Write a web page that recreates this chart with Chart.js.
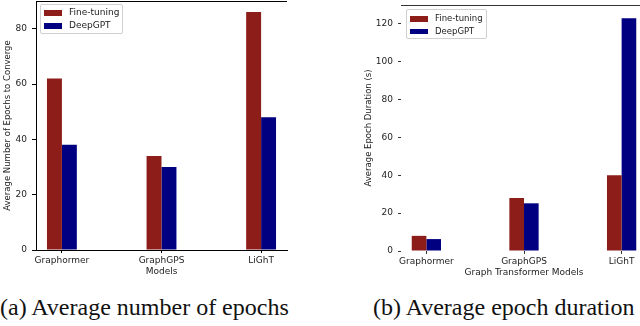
<!DOCTYPE html>
<html>
<head>
<meta charset="utf-8">
<script src="https://cdn.jsdelivr.net/npm/chart.js@4"></script>
<style>
html, body { margin: 0; padding: 0; background: #fff; }
body { width: 640px; height: 326px; overflow: hidden; position: relative; }
canvas { position: absolute; top: 0; }
#c1 { left: 0; }
#c2 { left: 320px; }
.legend { position: absolute; box-sizing: border-box; border: 1px solid #d0d0d0; border-radius: 2px;
          background: rgba(255,255,255,0.85); font: 9px "DejaVu Sans"; color: #222; }
.legend .row { position: absolute; left: 3px; white-space: nowrap; line-height: 10px; }
.legend .sw { display: inline-block; width: 18px; height: 6px; margin-right: 7px; vertical-align: middle; }
.caption { position: absolute; top: 295px; font: 24px "Liberation Serif", "Times New Roman", serif; line-height: 1; white-space: nowrap; color: #111; }
</style>
</head>
<body>
<canvas id="c1" width="300" height="290"></canvas>
<canvas id="c2" width="330" height="290"></canvas>

<div class="legend" style="left:40px;top:4px;width:83px;height:30px">
  <div class="row" style="top:2px"><span class="sw" style="background:#8c1d18"></span>Fine-tuning</div>
  <div class="row" style="top:15px"><span class="sw" style="background:#000080"></span>DeepGPT</div>
</div>
<div class="legend" style="left:406px;top:9px;width:81px;height:30px;font-size:8.5px">
  <div class="row" style="top:3px"><span class="sw" style="background:#8c1d18"></span>Fine-tuning</div>
  <div class="row" style="top:16px"><span class="sw" style="background:#000080;height:5px"></span>DeepGPT</div>
</div>

<div class="caption" style="left:0">(a) Average number of epochs</div>
<div class="caption" style="left:373px">(b) Average epoch duration</div>

<script>
// chart values
const models = ["Graphormer", "GraphGPS", "LiGhT"];
const epochsFineTuning = [62, 34, 86];
const epochsDeepGPT = [38, 30, 48];
const durationFineTuning = [8, 28, 40];
const durationDeepGPT = [6.3, 25.2, 123];
const epochTicks = [0, 20, 40, 60, 80];
const durationTicks = [0, 20, 40, 60, 80, 100, 120];

const redColor = "#8c1d18";
const blueColor = "#000080";

Chart.defaults.font.family = "DejaVu Sans";
Chart.defaults.font.size = 9;
Chart.defaults.color = "#222";

function toPoints(values) {
    return values.map((v, i) => ({ x: i, y: v }));
}

// draws the line along the top of the plot
const topLine = {
    id: "topLine",
    afterDraw(chart, args, opts) {
        const a = chart.chartArea;
        const ctx = chart.ctx;
        ctx.save();
        ctx.strokeStyle = opts.color;
        ctx.lineWidth = 1;
        ctx.beginPath();
        ctx.moveTo(a.left, a.top + 0.5);
        ctx.lineTo(a.right, a.top + 0.5);
        ctx.stroke();
        ctx.restore();
    }
};

// no extra room for labels at the ends of the axes
function noPad(axis) {
    axis.paddingTop = 0;
    axis.paddingBottom = 0;
    axis.paddingLeft = 0;
    axis.paddingRight = 0;
}

function makeChart(id, s) {
    return new Chart(id, {
        type: "bar",
        data: {
            datasets: [
                { label: "Fine-tuning", data: toPoints(s.fine), backgroundColor: redColor },
                { label: "DeepGPT", data: toPoints(s.deep), backgroundColor: blueColor }
            ]
        },
        options: {
            responsive: false,
            animation: false,
            layout: { padding: s.padding },
            categoryPercentage: 0.3,
            barPercentage: 1.0,
            plugins: {
                legend: { display: false },
                tooltip: { enabled: false },
                topLine: { color: s.lineColor }
            },
            scales: {
                x: {
                    type: "linear",
                    offset: false,
                    min: -0.26,
                    max: 2.26,
                    afterBuildTicks: axis => { axis.ticks = models.map((m, i) => ({ value: i })); },
                    afterFit: axis => { axis.height = s.xHeight; noPad(axis); },
                    ticks: {
                        autoSkip: false, maxRotation: 0, padding: 2,
                        callback: v => models[v]
                    },
                    grid: { offset: false, drawOnChartArea: false, drawTicks: true, tickLength: 3, color: s.lineColor },
                    border: { display: s.borders, color: "#000", width: 1 },
                    title: { display: true, text: s.xTitle, padding: { top: 0, bottom: s.xTitlePad } }
                },
                y: {
                    min: 0,
                    max: s.yMax,
                    afterBuildTicks: axis => { axis.ticks = s.yTicks.map(v => ({ value: v })); },
                    afterFit: axis => { axis.width = s.yWidth; noPad(axis); },
                    ticks: { padding: s.yTickPad },
                    grid: { drawOnChartArea: false, drawTicks: true, tickLength: s.yTickLen, color: s.lineColor },
                    border: { display: s.borders, color: "#000", width: 1 },
                    title: { display: true, text: s.yTitle, font: { size: 8.5 }, padding: { top: s.yTitlePad, bottom: 0 } }
                }
            }
        },
        plugins: [topLine]
    });
}

makeChart("c1", {
    fine: epochsFineTuning, deep: epochsDeepGPT,
    yMax: 90, yTicks: epochTicks,
    padding: { top: 1, right: 13, left: 0, bottom: 0 },
    xHeight: 40, yWidth: 36, xTitlePad: 13, yTitlePad: 3,
    yTickPad: 5, yTickLen: 4,
    borders: true, lineColor: "#000",
    xTitle: "Models", yTitle: "Average Number of Epochs to Converge"
});

makeChart("c2", {
    fine: durationFineTuning, deep: durationDeepGPT,
    yMax: 130, yTicks: durationTicks,
    padding: { top: 5, right: 3, left: 0, bottom: 0 },
    xHeight: 39, yWidth: 81, xTitlePad: 12, yTitlePad: 44,
    yTickPad: 5, yTickLen: 3,
    borders: false, lineColor: "#333",
    xTitle: "Graph Transformer Models", yTitle: "Average Epoch Duration (s)"
});
</script>
</body>
</html>
